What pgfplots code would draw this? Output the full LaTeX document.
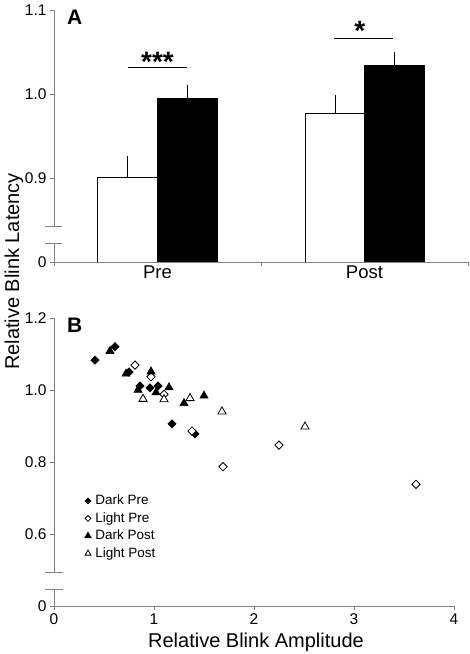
\documentclass[border=0pt]{standalone}
\usepackage{pgfplots}
\pgfplotsset{compat=1.18}
\usepackage{fontspec}
\setmainfont{Liberation Sans}
\definecolor{axisgray}{RGB}{128,128,128}
\begin{document}
\begin{tikzpicture}[x=1pt,y=1pt]
\path[use as bounding box] (0,0) rectangle (470,654);
% ---------------- Panel A ----------------
\begin{axis}[
  at={(54pt,392pt)}, anchor=south west,
  scale only axis, width=414pt, height=252pt,
  xmin=0, xmax=2, ymin=0.8, ymax=1.1,
  clip mode=individual,
  axis x line*=bottom, axis y line*=left,
  x axis line style={axisgray, line width=0.8pt},
  y axis line style={draw=none},
  tick align=outside,
  major tick length=4pt,
  tick style={axisgray, line width=0.8pt},
  ytick={0.8,0.9,1.0,1.1}, yticklabels={0,0.9,1.0,1.1},
  xtick={0,1,2}, xticklabels={},
  extra x ticks={0.5,1.5}, extra x tick labels={Pre,Post},
  extra x tick style={major tick length=0pt, xticklabel style={font=\fontsize{18.5}{20}\selectfont}},
  tick label style={font=\fontsize{15.5}{18}\selectfont, black},
]
\addplot[ybar, bar width=0.29, bar shift=0pt, fill=white, draw=black, line width=0.9pt,
  error bars/.cd, y dir=plus, y explicit,
  error bar style={black, line width=0.9pt},
  error mark options={black, mark size=3.5pt, line width=0.9pt}]
  coordinates {(0.355,0.901) +- (0,0.021) (1.36,0.977) +- (0,0.018)};
\addplot[ybar, bar width=0.29, bar shift=0pt, fill=black, draw=black, line width=0.9pt,
  error bars/.cd, y dir=plus, y explicit,
  error bar style={black, line width=0.9pt},
  error mark options={black, mark size=3.5pt, line width=0.9pt}]
  coordinates {(0.645,0.995) +- (0,0.012) (1.645,1.034) +- (0,0.012)};
\addplot[black, line width=1pt] coordinates {(0.357,1.031) (0.643,1.031)};
\addplot[black, line width=1pt] coordinates {(1.353,1.066) (1.638,1.066)};
\node[anchor=north, inner sep=0pt, font=\fontsize{28}{28}\selectfont\bfseries] at (axis cs:0.5,1.0504) {***};
\node[anchor=north, inner sep=0pt, font=\fontsize{28}{28}\selectfont\bfseries] at (axis cs:1.478,1.0873) {*};
% broken y axis
\draw[axisgray, line width=0.8pt] (axis cs:0,0.8) -- (axis cs:0,0.8226);
\draw[axisgray, line width=0.8pt] (axis cs:0,0.8429) -- (axis cs:0,1.1);
\draw[axisgray, line width=0.8pt] ([xshift=-9pt]axis cs:0,0.8226) -- ([xshift=8.5pt]axis cs:0,0.8226);
\draw[axisgray, line width=0.8pt] ([xshift=-9pt]axis cs:0,0.8429) -- ([xshift=8.5pt]axis cs:0,0.8429);
\end{axis}
\node[anchor=north west, inner sep=0pt, font=\fontsize{21}{21}\selectfont\bfseries] at (67,644) {A};
% ---------------- Panel B ----------------
\begin{axis}[
  at={(54pt,48pt)}, anchor=south west,
  scale only axis, width=400pt, height=288pt,
  xmin=0, xmax=4, ymin=0.4, ymax=1.2,
  clip mode=individual,
  axis x line*=bottom, axis y line*=left,
  x axis line style={axisgray, line width=0.8pt},
  y axis line style={draw=none},
  tick align=outside,
  major tick length=4pt,
  tick style={axisgray, line width=0.8pt},
  xtick={0,1,2,3,4},
  ytick={0.4,0.6,0.8,1.0,1.2}, yticklabels={0,0.6,0.8,1.0,1.2},
  /pgf/number format/assume math mode=true,
  tick label style={font=\fontsize{15.5}{18}\selectfont, black},
  xlabel={Relative Blink Amplitude},
  xlabel style={font=\fontsize{20}{22}\selectfont, at={(axis description cs:0.505,0)}, anchor=north, yshift=-27pt, inner sep=0pt},
  legend style={draw=none, fill=none, at={(0.0763,0.389)}, anchor=north west, inner sep=0pt,
    font=\fontsize{13.5}{15}\selectfont, row sep=4pt,
    nodes={inner xsep=4pt, inner ysep=0pt, text height=10.5pt, text depth=3pt}},
  legend cell align=left,
  legend image code/.code={\draw plot coordinates {(0pt,0pt)};},
]
\addplot[only marks, mark=square*, mark size=2.93pt, mark options={rotate=45, fill=black, draw=black, line width=0.6pt},
  legend image post style={mark size=2.1pt}]
  coordinates {(0.41,1.083) (0.61,1.12) (0.75,1.05) (0.86,1.011) (0.96,1.006) (1.04,1.011) (1.18,0.906) (1.41,0.878)};
\addlegendentry{Dark Pre}
\addplot[only marks, mark=square*, mark size=2.93pt, mark options={rotate=45, fill=white, draw=black, line width=0.8pt},
  legend image post style={mark size=2.1pt}]
  coordinates {(0.81,1.069) (0.97,1.037) (1.10,0.988) (1.38,0.886) (1.69,0.787) (2.25,0.847) (3.62,0.738)};
\addlegendentry{Light Pre}
\addplot[only marks, mark=triangle*, mark size=4.7pt, mark options={fill=black, draw=black, line width=0.6pt},
  legend image post style={mark size=3.8pt}]
  coordinates {(0.56,1.108) (0.72,1.045) (0.97,1.051) (0.84,1.0) (1.02,0.993) (1.15,1.007) (1.30,0.963) (1.50,0.984)};
\addlegendentry{Dark Post}
\addplot[only marks, mark=triangle*, mark size=4.7pt, mark options={fill=white, draw=black, line width=0.8pt},
  legend image post style={mark size=3.4pt}]
  coordinates {(0.89,0.975) (1.10,0.974) (1.36,0.977) (1.68,0.940) (2.51,0.898)};
\addlegendentry{Light Post}
% broken y axis
\draw[axisgray, line width=0.8pt] (axis cs:0,0.4) -- (axis cs:0,0.4464);
\draw[axisgray, line width=0.8pt] (axis cs:0,0.4925) -- (axis cs:0,1.2);
\draw[axisgray, line width=0.8pt] ([xshift=-9pt]axis cs:0,0.4464) -- ([xshift=8.5pt]axis cs:0,0.4464);
\draw[axisgray, line width=0.8pt] ([xshift=-9pt]axis cs:0,0.4925) -- ([xshift=8.5pt]axis cs:0,0.4925);
\end{axis}
\node[anchor=north west, inner sep=0pt, font=\fontsize{21}{21}\selectfont\bfseries] at (67,336) {B};
\node[rotate=90, inner sep=0pt, font=\fontsize{20}{22}\selectfont] at (14,382.5) {Relative Blink Latency};
\end{tikzpicture}
\end{document}
